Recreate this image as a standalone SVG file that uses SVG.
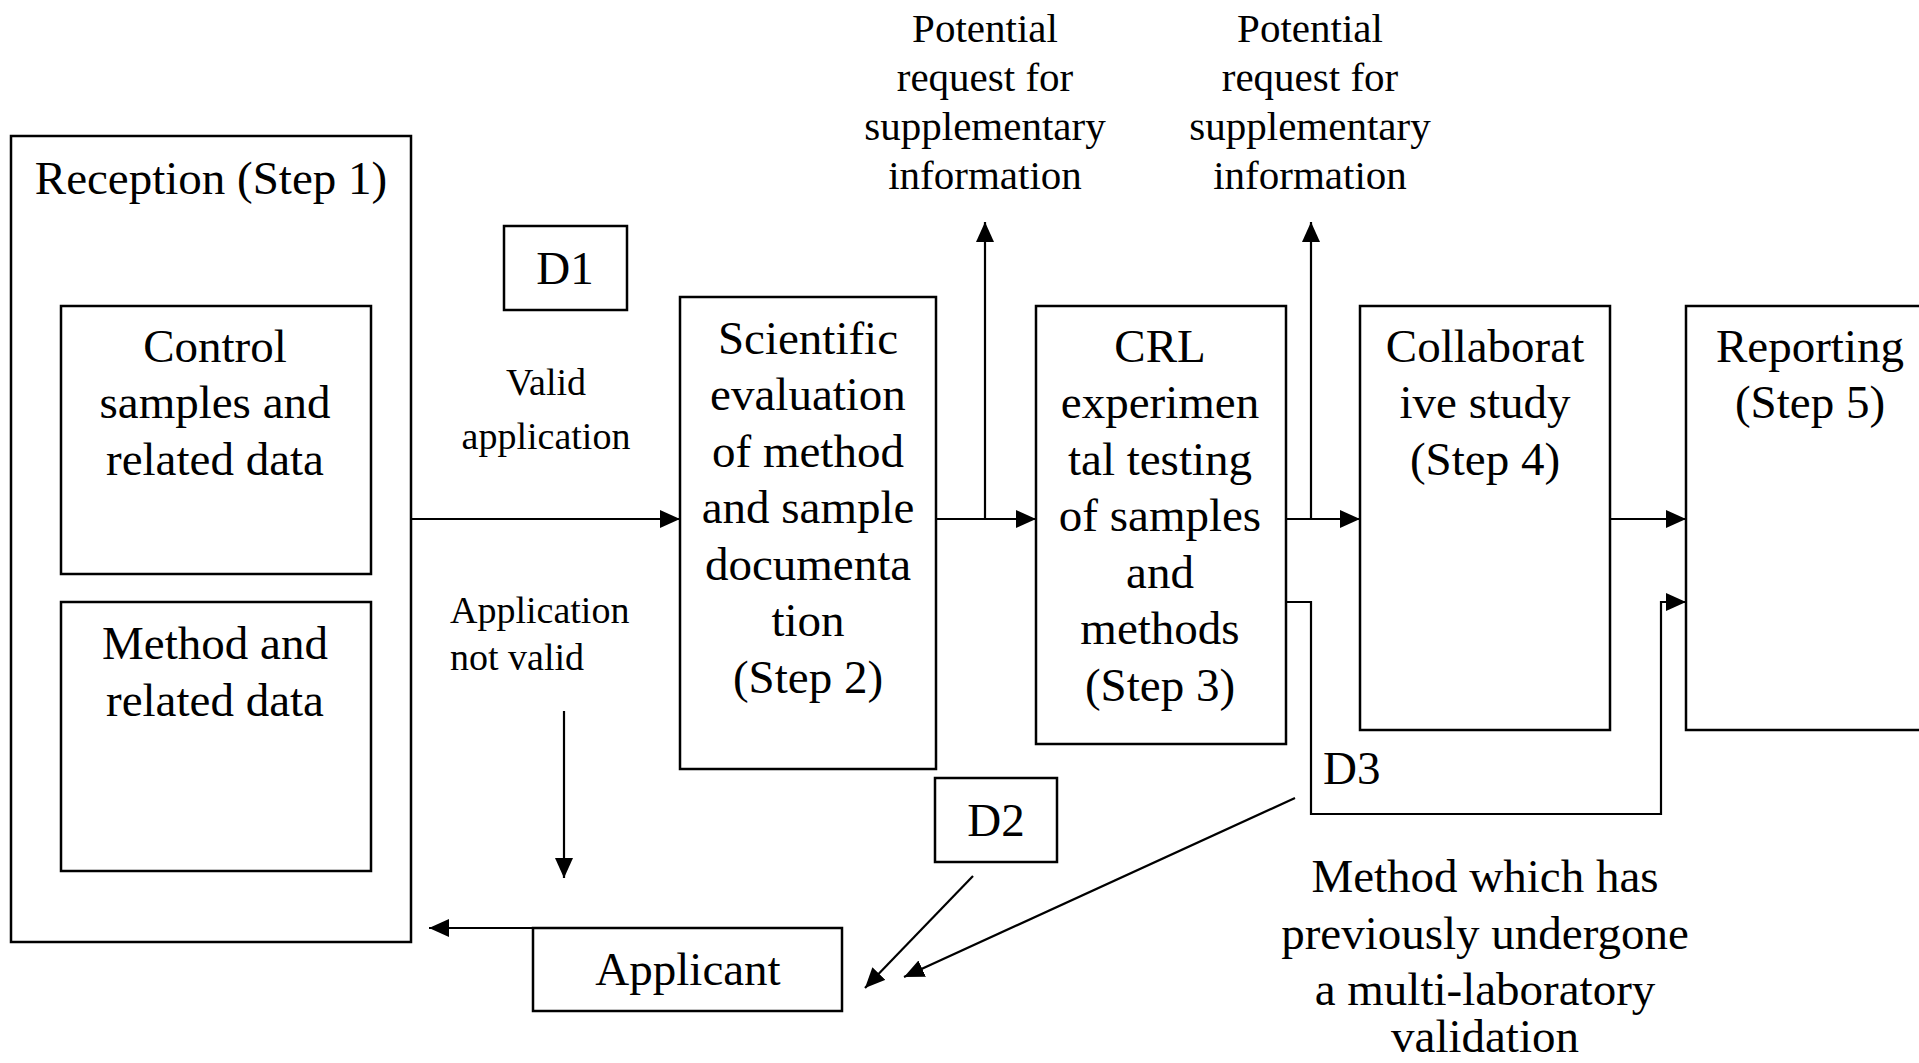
<svg xmlns="http://www.w3.org/2000/svg" width="1919" height="1063" viewBox="0 0 1919 1063">
<style>
.box{fill:#fff;stroke:#000;stroke-width:2.5}
.t{font-family:"Liberation Serif","Times New Roman",serif;font-size:47px;fill:#000;text-anchor:middle}
.s{font-family:"Liberation Serif","Times New Roman",serif;font-size:38px;fill:#000;text-anchor:middle}
.p{font-family:"Liberation Serif","Times New Roman",serif;font-size:41px;fill:#000;text-anchor:middle}
.c{fill:none;stroke:#000;stroke-width:2.2}
</style>
<defs>
<marker id="ah" markerUnits="userSpaceOnUse" markerWidth="22" markerHeight="20" refX="20" refY="9" orient="auto">
<path d="M0,0 L20,9 L0,18 z" fill="#000"/>
</marker>
</defs>
<rect width="1919" height="1063" fill="#fff"/>
<g id="reception">
<rect class="box" x="11" y="136" width="400" height="806"/>
<text class="t" x="211" y="194">Reception (Step 1)</text>
</g>
<g id="control">
<rect class="box" x="61" y="306" width="310" height="268"/>
<text class="t" x="215" y="362">Control</text>
<text class="t" x="215" y="418">samples and</text>
<text class="t" x="215" y="475">related data</text>
</g>
<g id="method">
<rect class="box" x="61" y="602" width="310" height="269"/>
<text class="t" x="215" y="659">Method and</text>
<text class="t" x="215" y="716">related data</text>
</g>
<g id="d1">
<rect class="box" x="504" y="226" width="123" height="84"/>
<text class="t" x="565" y="284">D1</text>
</g>
<g id="labels">
<text class="s" x="546" y="395">Valid</text>
<text class="s" x="546" y="449">application</text>
<text class="s" x="450" y="623" style="text-anchor:start">Application</text>
<text class="s" x="450" y="670" style="text-anchor:start">not valid</text>
<text class="p" x="985" y="42">Potential</text>
<text class="p" x="985" y="91">request for</text>
<text class="p" x="985" y="140">supplementary</text>
<text class="p" x="985" y="189">information</text>
<text class="p" x="1310" y="42">Potential</text>
<text class="p" x="1310" y="91">request for</text>
<text class="p" x="1310" y="140">supplementary</text>
<text class="p" x="1310" y="189">information</text>
<text class="t" x="1323" y="784" style="text-anchor:start">D3</text>
<text class="t" x="1485" y="892">Method which has</text>
<text class="t" x="1485" y="949">previously undergone</text>
<text class="t" x="1485" y="1005">a multi-laboratory</text>
<text class="t" x="1485" y="1052">validation</text>
</g>
<g id="scientific">
<rect class="box" x="680" y="297" width="256" height="472"/>
<text class="t" x="808" y="354">Scientific</text>
<text class="t" x="808" y="410">evaluation</text>
<text class="t" x="808" y="467">of method</text>
<text class="t" x="808" y="523">and sample</text>
<text class="t" x="808" y="580">documenta</text>
<text class="t" x="808" y="636">tion</text>
<text class="t" x="808" y="693">(Step 2)</text>
</g>
<g id="crl">
<rect class="box" x="1036" y="306" width="250" height="438"/>
<text class="t" x="1160" y="362">CRL</text>
<text class="t" x="1160" y="418">experimen</text>
<text class="t" x="1160" y="475">tal testing</text>
<text class="t" x="1160" y="531">of samples</text>
<text class="t" x="1160" y="588">and</text>
<text class="t" x="1160" y="644">methods</text>
<text class="t" x="1160" y="701">(Step 3)</text>
</g>
<g id="collaborative">
<rect class="box" x="1360" y="306" width="250" height="424"/>
<text class="t" x="1485" y="362">Collaborat</text>
<text class="t" x="1485" y="418">ive study</text>
<text class="t" x="1485" y="475">(Step 4)</text>
</g>
<g id="reporting">
<rect class="box" x="1686" y="306" width="260" height="424"/>
<text class="t" x="1810" y="362">Reporting</text>
<text class="t" x="1810" y="418">(Step 5)</text>
</g>
<g id="d2">
<rect class="box" x="935" y="778" width="122" height="84"/>
<text class="t" x="996" y="836">D2</text>
</g>
<g id="applicant">
<rect class="box" x="533" y="928" width="309" height="83"/>
<text class="t" x="688" y="985">Applicant</text>
</g>
<g id="connectors">
<line class="c" x1="411" y1="519" x2="680" y2="519" marker-end="url(#ah)"/>
<line class="c" x1="936" y1="519" x2="1036" y2="519" marker-end="url(#ah)"/>
<line class="c" x1="985" y1="519" x2="985" y2="222" marker-end="url(#ah)"/>
<line class="c" x1="1286" y1="519" x2="1360" y2="519" marker-end="url(#ah)"/>
<line class="c" x1="1311" y1="519" x2="1311" y2="222" marker-end="url(#ah)"/>
<line class="c" x1="1610" y1="519" x2="1686" y2="519" marker-end="url(#ah)"/>
<path class="c" d="M1286,602 H1311 V814 H1661 V602 H1686" marker-end="url(#ah)"/>
<line class="c" x1="564" y1="711" x2="564" y2="878" marker-end="url(#ah)"/>
<line class="c" x1="595" y1="928" x2="429" y2="928" marker-end="url(#ah)"/>
<line class="c" x1="973" y1="876" x2="865" y2="988" marker-end="url(#ah)"/>
<line class="c" x1="1295" y1="798" x2="904" y2="977" marker-end="url(#ah)"/>
</g>
</svg>
